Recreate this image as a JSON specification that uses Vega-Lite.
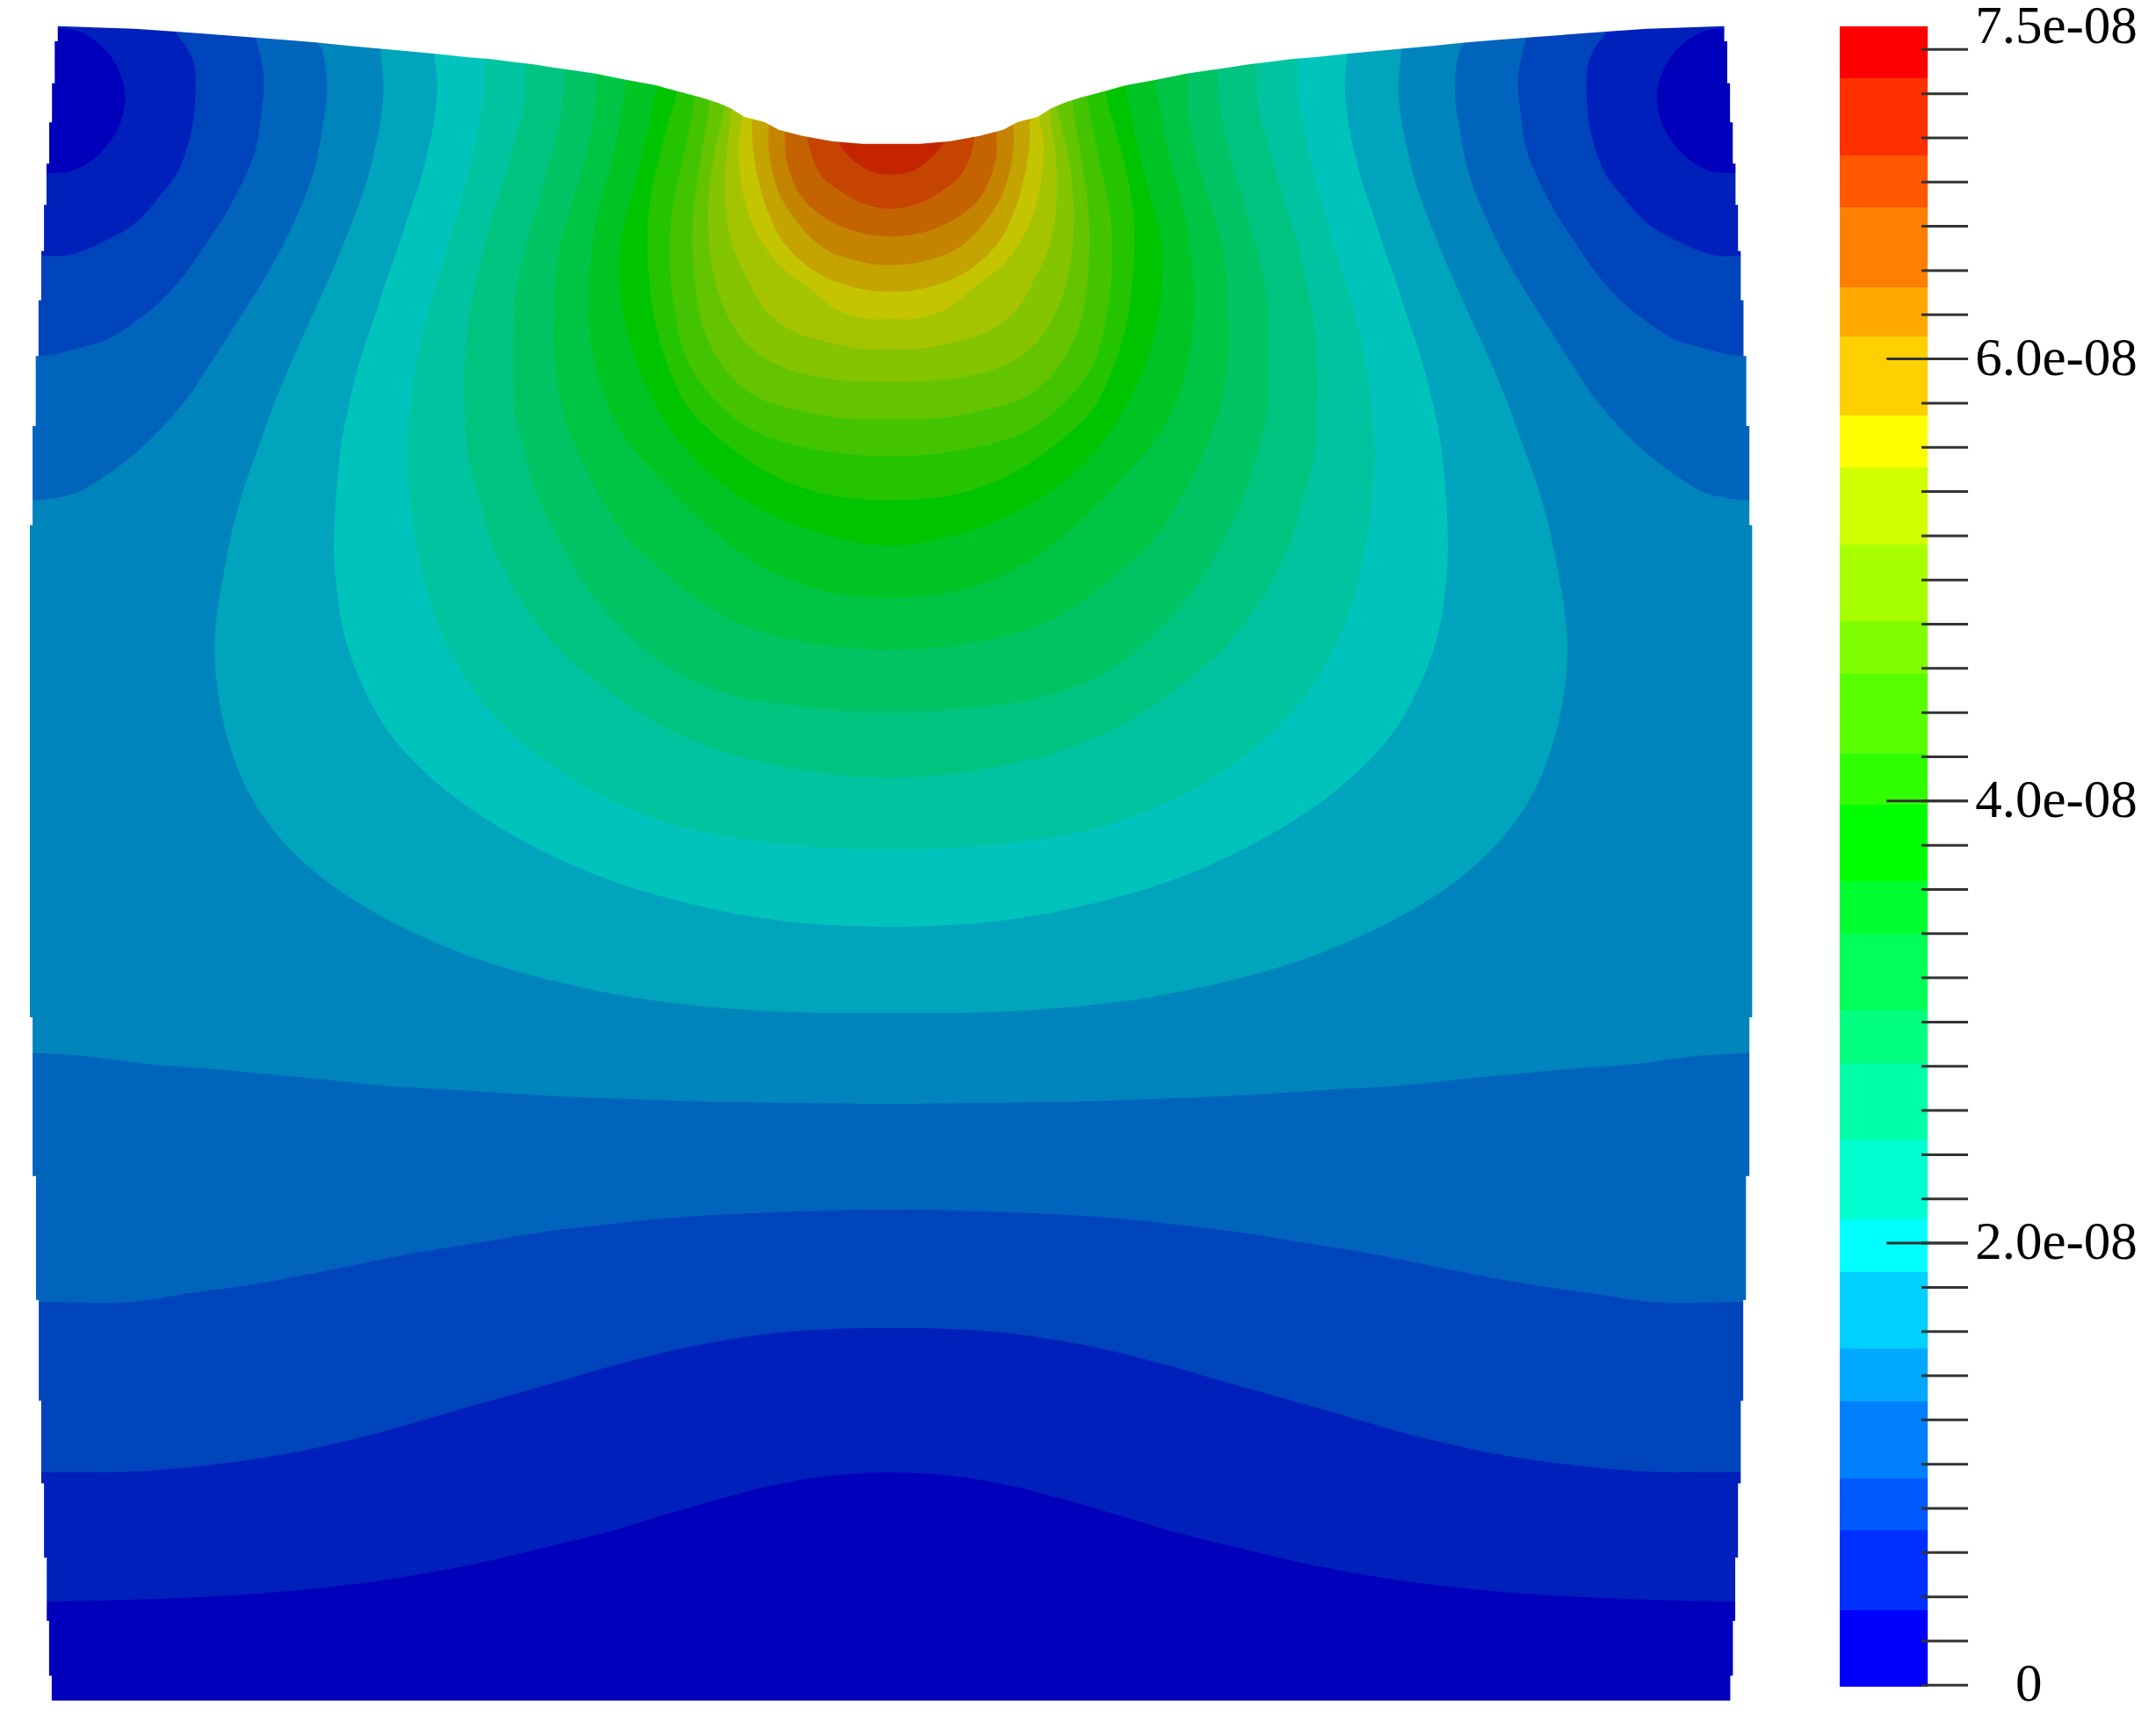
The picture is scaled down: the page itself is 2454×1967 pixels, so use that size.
{"$schema":"https://vega.github.io/schema/vega-lite/v6.json","width":2454,"height":1967,"padding":0,"autosize":{"type":"fit","contains":"padding"},"background":"white","config":{"view":{"stroke":null}},"resolve":{"scale":{"y":"independent"}},"layer":[
{"layer":[
{"data":{"values":[{"x":0,"y":0},{"x":1296,"y":0},{"x":1296,"y":1257},{"x":0,"y":1257}]},"transform":[{"window":[{"op":"row_number","as":"i"}]}],"mark":{"type":"line","fill":"#0000bc","stroke":null},"encoding":{"x":{"field":"x","type":"quantitative","scale":{"domain":[0,1568],"nice":false,"zero":false},"axis":null},"y":{"field":"y","type":"quantitative","scale":{"domain":[1257,0],"nice":false,"zero":false},"axis":null},"order":{"field":"i"}}},
{"data":{"values":[
{"band":1,"x":0,"y":1165},{"band":1,"x":34,"y":1165},{"band":1,"x":114,"y":1163},{"band":1,"x":190,"y":1159},{"band":1,"x":268,"y":1151},{"band":1,"x":339,"y":1139},{"band":1,"x":399,"y":1125},{"band":1,"x":447,"y":1113},{"band":1,"x":500,"y":1097},{"band":1,"x":560,"y":1081},{"band":1,"x":600,"y":1074},{"band":1,"x":648,"y":1071},{"band":1,"x":696,"y":1074},{"band":1,"x":736,"y":1081},{"band":1,"x":796,"y":1097},{"band":1,"x":849,"y":1113},{"band":1,"x":897,"y":1125},{"band":1,"x":957,"y":1139},{"band":1,"x":1028,"y":1151},{"band":1,"x":1106,"y":1159},{"band":1,"x":1182,"y":1163},{"band":1,"x":1262,"y":1165},{"band":1,"x":1296,"y":1165},{"band":1,"x":1296,"y":1155},{"band":1,"x":1296,"y":136},{"band":1,"x":1296,"y":126},{"band":1,"x":1262,"y":126},{"band":1,"x":1246,"y":125},{"band":1,"x":1236,"y":121},{"band":1,"x":1226,"y":114},{"band":1,"x":1216,"y":103},{"band":1,"x":1208,"y":88},{"band":1,"x":1205,"y":73},{"band":1,"x":1207,"y":58},{"band":1,"x":1214,"y":43},{"band":1,"x":1224,"y":32},{"band":1,"x":1236,"y":24},{"band":1,"x":1247,"y":21},{"band":1,"x":1254,"y":20},{"band":1,"x":1254,"y":0},{"band":1,"x":42,"y":0},{"band":1,"x":42,"y":20},{"band":1,"x":49,"y":21},{"band":1,"x":60,"y":24},{"band":1,"x":72,"y":32},{"band":1,"x":82,"y":43},{"band":1,"x":89,"y":58},{"band":1,"x":91,"y":73},{"band":1,"x":88,"y":88},{"band":1,"x":80,"y":103},{"band":1,"x":70,"y":114},{"band":1,"x":60,"y":121},{"band":1,"x":50,"y":125},{"band":1,"x":34,"y":126},{"band":1,"x":0,"y":126},
{"band":2,"x":0,"y":1071},{"band":2,"x":30,"y":1071},{"band":2,"x":105,"y":1070},{"band":2,"x":194,"y":1060},{"band":2,"x":261,"y":1046},{"band":2,"x":335,"y":1025},{"band":2,"x":399,"y":1007},{"band":2,"x":447,"y":993},{"band":2,"x":500,"y":980},{"band":2,"x":560,"y":970},{"band":2,"x":600,"y":967},{"band":2,"x":648,"y":966},{"band":2,"x":696,"y":967},{"band":2,"x":736,"y":970},{"band":2,"x":796,"y":980},{"band":2,"x":849,"y":993},{"band":2,"x":897,"y":1007},{"band":2,"x":961,"y":1025},{"band":2,"x":1035,"y":1046},{"band":2,"x":1102,"y":1060},{"band":2,"x":1191,"y":1070},{"band":2,"x":1266,"y":1071},{"band":2,"x":1296,"y":1071},{"band":2,"x":1296,"y":1061},{"band":2,"x":1296,"y":196},{"band":2,"x":1296,"y":186},{"band":2,"x":1266,"y":186},{"band":2,"x":1248,"y":186},{"band":2,"x":1232,"y":181},{"band":2,"x":1217,"y":174},{"band":2,"x":1204,"y":167},{"band":2,"x":1192,"y":157},{"band":2,"x":1181,"y":144},{"band":2,"x":1169,"y":129},{"band":2,"x":1161,"y":111},{"band":2,"x":1156,"y":91},{"band":2,"x":1154,"y":73},{"band":2,"x":1154,"y":53},{"band":2,"x":1156,"y":43},{"band":2,"x":1161,"y":33},{"band":2,"x":1168,"y":23},{"band":2,"x":1168,"y":0},{"band":2,"x":128,"y":0},{"band":2,"x":128,"y":23},{"band":2,"x":135,"y":33},{"band":2,"x":140,"y":43},{"band":2,"x":142,"y":53},{"band":2,"x":142,"y":73},{"band":2,"x":140,"y":91},{"band":2,"x":135,"y":111},{"band":2,"x":127,"y":129},{"band":2,"x":115,"y":144},{"band":2,"x":104,"y":157},{"band":2,"x":92,"y":167},{"band":2,"x":79,"y":174},{"band":2,"x":64,"y":181},{"band":2,"x":48,"y":186},{"band":2,"x":30,"y":186},{"band":2,"x":0,"y":186},
{"band":3,"x":0,"y":947},{"band":3,"x":28,"y":947},{"band":3,"x":96,"y":947},{"band":3,"x":136,"y":941},{"band":3,"x":180,"y":935},{"band":3,"x":224,"y":927},{"band":3,"x":264,"y":919},{"band":3,"x":304,"y":911},{"band":3,"x":348,"y":904},{"band":3,"x":397,"y":896},{"band":3,"x":447,"y":890},{"band":3,"x":500,"y":885},{"band":3,"x":560,"y":882},{"band":3,"x":648,"y":880},{"band":3,"x":736,"y":882},{"band":3,"x":796,"y":885},{"band":3,"x":849,"y":890},{"band":3,"x":899,"y":896},{"band":3,"x":948,"y":904},{"band":3,"x":992,"y":911},{"band":3,"x":1032,"y":919},{"band":3,"x":1072,"y":927},{"band":3,"x":1116,"y":935},{"band":3,"x":1160,"y":941},{"band":3,"x":1200,"y":947},{"band":3,"x":1268,"y":947},{"band":3,"x":1296,"y":947},{"band":3,"x":1296,"y":937},{"band":3,"x":1296,"y":269},{"band":3,"x":1296,"y":259},{"band":3,"x":1268,"y":259},{"band":3,"x":1253,"y":257},{"band":3,"x":1234,"y":252},{"band":3,"x":1216,"y":246},{"band":3,"x":1199,"y":235},{"band":3,"x":1181,"y":221},{"band":3,"x":1162,"y":200},{"band":3,"x":1146,"y":177},{"band":3,"x":1131,"y":154},{"band":3,"x":1119,"y":131},{"band":3,"x":1110,"y":109},{"band":3,"x":1106,"y":83},{"band":3,"x":1104,"y":58},{"band":3,"x":1108,"y":35},{"band":3,"x":1110,"y":28},{"band":3,"x":1110,"y":0},{"band":3,"x":186,"y":0},{"band":3,"x":186,"y":28},{"band":3,"x":188,"y":35},{"band":3,"x":192,"y":58},{"band":3,"x":190,"y":83},{"band":3,"x":186,"y":109},{"band":3,"x":177,"y":131},{"band":3,"x":165,"y":154},{"band":3,"x":150,"y":177},{"band":3,"x":134,"y":200},{"band":3,"x":115,"y":221},{"band":3,"x":97,"y":235},{"band":3,"x":80,"y":246},{"band":3,"x":62,"y":252},{"band":3,"x":43,"y":257},{"band":3,"x":28,"y":259},{"band":3,"x":0,"y":259},
{"band":4,"x":0,"y":766},{"band":4,"x":24,"y":766},{"band":4,"x":60,"y":768},{"band":4,"x":108,"y":774},{"band":4,"x":148,"y":777},{"band":4,"x":191,"y":781},{"band":4,"x":234,"y":785},{"band":4,"x":282,"y":790},{"band":4,"x":334,"y":793},{"band":4,"x":397,"y":797},{"band":4,"x":447,"y":799},{"band":4,"x":500,"y":801},{"band":4,"x":560,"y":802},{"band":4,"x":648,"y":803},{"band":4,"x":736,"y":802},{"band":4,"x":796,"y":801},{"band":4,"x":849,"y":799},{"band":4,"x":899,"y":797},{"band":4,"x":962,"y":793},{"band":4,"x":1014,"y":790},{"band":4,"x":1062,"y":785},{"band":4,"x":1105,"y":781},{"band":4,"x":1148,"y":777},{"band":4,"x":1188,"y":774},{"band":4,"x":1236,"y":768},{"band":4,"x":1272,"y":766},{"band":4,"x":1296,"y":766},{"band":4,"x":1296,"y":756},{"band":4,"x":1296,"y":374},{"band":4,"x":1296,"y":364},{"band":4,"x":1272,"y":364},{"band":4,"x":1254,"y":362},{"band":4,"x":1239,"y":358},{"band":4,"x":1219,"y":346},{"band":4,"x":1199,"y":331},{"band":4,"x":1179,"y":312},{"band":4,"x":1160,"y":290},{"band":4,"x":1142,"y":263},{"band":4,"x":1124,"y":235},{"band":4,"x":1105,"y":205},{"band":4,"x":1087,"y":172},{"band":4,"x":1069,"y":129},{"band":4,"x":1062,"y":96},{"band":4,"x":1058,"y":63},{"band":4,"x":1062,"y":35},{"band":4,"x":1065,"y":31},{"band":4,"x":1065,"y":0},{"band":4,"x":231,"y":0},{"band":4,"x":231,"y":31},{"band":4,"x":234,"y":35},{"band":4,"x":238,"y":63},{"band":4,"x":234,"y":96},{"band":4,"x":227,"y":129},{"band":4,"x":209,"y":172},{"band":4,"x":191,"y":205},{"band":4,"x":172,"y":235},{"band":4,"x":154,"y":263},{"band":4,"x":136,"y":290},{"band":4,"x":117,"y":312},{"band":4,"x":97,"y":331},{"band":4,"x":77,"y":346},{"band":4,"x":57,"y":358},{"band":4,"x":42,"y":362},{"band":4,"x":24,"y":364},{"band":4,"x":0,"y":364},
{"band":5,"x":277,"y":0},{"band":5,"x":277,"y":37},{"band":5,"x":279,"y":63},{"band":5,"x":277,"y":86},{"band":5,"x":272,"y":111},{"band":5,"x":267,"y":131},{"band":5,"x":261,"y":149},{"band":5,"x":254,"y":167},{"band":5,"x":246,"y":187},{"band":5,"x":236,"y":210},{"band":5,"x":227,"y":230},{"band":5,"x":217,"y":252},{"band":5,"x":207,"y":275},{"band":5,"x":197,"y":300},{"band":5,"x":187,"y":328},{"band":5,"x":178,"y":353},{"band":5,"x":170,"y":381},{"band":5,"x":163,"y":415},{"band":5,"x":158,"y":445},{"band":5,"x":156,"y":470},{"band":5,"x":158,"y":500},{"band":5,"x":165,"y":535},{"band":5,"x":180,"y":575},{"band":5,"x":204,"y":610},{"band":5,"x":236,"y":640},{"band":5,"x":280,"y":668},{"band":5,"x":340,"y":695},{"band":5,"x":400,"y":713},{"band":5,"x":470,"y":727},{"band":5,"x":550,"y":735},{"band":5,"x":648,"y":737},{"band":5,"x":746,"y":735},{"band":5,"x":826,"y":727},{"band":5,"x":896,"y":713},{"band":5,"x":956,"y":695},{"band":5,"x":1016,"y":668},{"band":5,"x":1060,"y":640},{"band":5,"x":1092,"y":610},{"band":5,"x":1116,"y":575},{"band":5,"x":1131,"y":535},{"band":5,"x":1138,"y":500},{"band":5,"x":1140,"y":470},{"band":5,"x":1138,"y":445},{"band":5,"x":1133,"y":415},{"band":5,"x":1126,"y":381},{"band":5,"x":1118,"y":353},{"band":5,"x":1109,"y":328},{"band":5,"x":1099,"y":300},{"band":5,"x":1089,"y":275},{"band":5,"x":1079,"y":252},{"band":5,"x":1069,"y":230},{"band":5,"x":1060,"y":210},{"band":5,"x":1050,"y":187},{"band":5,"x":1042,"y":167},{"band":5,"x":1035,"y":149},{"band":5,"x":1029,"y":131},{"band":5,"x":1024,"y":111},{"band":5,"x":1019,"y":86},{"band":5,"x":1017,"y":63},{"band":5,"x":1019,"y":37},{"band":5,"x":1019,"y":0},
{"band":6,"x":316,"y":0},{"band":6,"x":316,"y":39},{"band":6,"x":318,"y":58},{"band":6,"x":316,"y":86},{"band":6,"x":311,"y":111},{"band":6,"x":305,"y":134},{"band":6,"x":298,"y":154},{"band":6,"x":290,"y":179},{"band":6,"x":281,"y":204},{"band":6,"x":272,"y":232},{"band":6,"x":265,"y":252},{"band":6,"x":256,"y":285},{"band":6,"x":249,"y":318},{"band":6,"x":245,"y":353},{"band":6,"x":243,"y":396},{"band":6,"x":244,"y":420},{"band":6,"x":250,"y":460},{"band":6,"x":262,"y":495},{"band":6,"x":283,"y":533},{"band":6,"x":316,"y":568},{"band":6,"x":365,"y":603},{"band":6,"x":430,"y":635},{"band":6,"x":500,"y":657},{"band":6,"x":570,"y":670},{"band":6,"x":648,"y":674},{"band":6,"x":726,"y":670},{"band":6,"x":796,"y":657},{"band":6,"x":866,"y":635},{"band":6,"x":931,"y":603},{"band":6,"x":980,"y":568},{"band":6,"x":1013,"y":533},{"band":6,"x":1034,"y":495},{"band":6,"x":1046,"y":460},{"band":6,"x":1052,"y":420},{"band":6,"x":1053,"y":396},{"band":6,"x":1051,"y":353},{"band":6,"x":1047,"y":318},{"band":6,"x":1040,"y":285},{"band":6,"x":1031,"y":252},{"band":6,"x":1024,"y":232},{"band":6,"x":1015,"y":204},{"band":6,"x":1006,"y":179},{"band":6,"x":998,"y":154},{"band":6,"x":991,"y":134},{"band":6,"x":985,"y":111},{"band":6,"x":980,"y":86},{"band":6,"x":978,"y":58},{"band":6,"x":980,"y":39},{"band":6,"x":980,"y":0},
{"band":7,"x":352,"y":0},{"band":7,"x":352,"y":43},{"band":7,"x":352,"y":66},{"band":7,"x":347,"y":96},{"band":7,"x":342,"y":119},{"band":7,"x":335,"y":146},{"band":7,"x":324,"y":184},{"band":7,"x":314,"y":217},{"band":7,"x":305,"y":252},{"band":7,"x":299,"y":290},{"band":7,"x":296,"y":328},{"band":7,"x":298,"y":366},{"band":7,"x":303,"y":396},{"band":7,"x":310,"y":430},{"band":7,"x":325,"y":470},{"band":7,"x":350,"y":510},{"band":7,"x":385,"y":545},{"band":7,"x":430,"y":575},{"band":7,"x":490,"y":600},{"band":7,"x":560,"y":613},{"band":7,"x":648,"y":618},{"band":7,"x":736,"y":613},{"band":7,"x":806,"y":600},{"band":7,"x":866,"y":575},{"band":7,"x":911,"y":545},{"band":7,"x":946,"y":510},{"band":7,"x":971,"y":470},{"band":7,"x":986,"y":430},{"band":7,"x":993,"y":396},{"band":7,"x":998,"y":366},{"band":7,"x":1000,"y":328},{"band":7,"x":997,"y":290},{"band":7,"x":991,"y":252},{"band":7,"x":982,"y":217},{"band":7,"x":972,"y":184},{"band":7,"x":961,"y":146},{"band":7,"x":954,"y":119},{"band":7,"x":949,"y":96},{"band":7,"x":944,"y":66},{"band":7,"x":944,"y":43},{"band":7,"x":944,"y":0},
{"band":8,"x":382,"y":0},{"band":8,"x":382,"y":47},{"band":8,"x":381,"y":76},{"band":8,"x":374,"y":103},{"band":8,"x":364,"y":139},{"band":8,"x":354,"y":172},{"band":8,"x":348,"y":197},{"band":8,"x":341,"y":232},{"band":8,"x":338,"y":268},{"band":8,"x":338,"y":298},{"band":8,"x":341,"y":336},{"band":8,"x":348,"y":361},{"band":8,"x":358,"y":396},{"band":8,"x":375,"y":430},{"band":8,"x":400,"y":465},{"band":8,"x":435,"y":497},{"band":8,"x":480,"y":527},{"band":8,"x":530,"y":548},{"band":8,"x":590,"y":561},{"band":8,"x":648,"y":566},{"band":8,"x":706,"y":561},{"band":8,"x":766,"y":548},{"band":8,"x":816,"y":527},{"band":8,"x":861,"y":497},{"band":8,"x":896,"y":465},{"band":8,"x":921,"y":430},{"band":8,"x":938,"y":396},{"band":8,"x":948,"y":361},{"band":8,"x":955,"y":336},{"band":8,"x":958,"y":298},{"band":8,"x":958,"y":268},{"band":8,"x":955,"y":232},{"band":8,"x":948,"y":197},{"band":8,"x":942,"y":172},{"band":8,"x":932,"y":139},{"band":8,"x":922,"y":103},{"band":8,"x":915,"y":76},{"band":8,"x":914,"y":47},{"band":8,"x":914,"y":0},
{"band":9,"x":410,"y":0},{"band":9,"x":410,"y":51},{"band":9,"x":409,"y":76},{"band":9,"x":403,"y":106},{"band":9,"x":391,"y":149},{"band":9,"x":379,"y":192},{"band":9,"x":374,"y":222},{"band":9,"x":373,"y":263},{"band":9,"x":374,"y":298},{"band":9,"x":381,"y":328},{"band":9,"x":391,"y":361},{"band":9,"x":408,"y":396},{"band":9,"x":425,"y":425},{"band":9,"x":450,"y":455},{"band":9,"x":485,"y":485},{"band":9,"x":530,"y":505},{"band":9,"x":590,"y":515},{"band":9,"x":648,"y":518},{"band":9,"x":706,"y":515},{"band":9,"x":766,"y":505},{"band":9,"x":811,"y":485},{"band":9,"x":846,"y":455},{"band":9,"x":871,"y":425},{"band":9,"x":888,"y":396},{"band":9,"x":905,"y":361},{"band":9,"x":915,"y":328},{"band":9,"x":922,"y":298},{"band":9,"x":923,"y":263},{"band":9,"x":922,"y":222},{"band":9,"x":917,"y":192},{"band":9,"x":905,"y":149},{"band":9,"x":893,"y":106},{"band":9,"x":887,"y":76},{"band":9,"x":886,"y":51},{"band":9,"x":886,"y":0},
{"band":10,"x":433,"y":0},{"band":10,"x":433,"y":55},{"band":10,"x":431,"y":88},{"band":10,"x":423,"y":124},{"band":10,"x":413,"y":157},{"band":10,"x":406,"y":184},{"band":10,"x":403,"y":222},{"band":10,"x":403,"y":258},{"band":10,"x":409,"y":298},{"band":10,"x":421,"y":331},{"band":10,"x":438,"y":364},{"band":10,"x":460,"y":396},{"band":10,"x":478,"y":412},{"band":10,"x":504,"y":434},{"band":10,"x":540,"y":455},{"band":10,"x":590,"y":468},{"band":10,"x":648,"y":473},{"band":10,"x":706,"y":468},{"band":10,"x":756,"y":455},{"band":10,"x":792,"y":434},{"band":10,"x":818,"y":412},{"band":10,"x":836,"y":396},{"band":10,"x":858,"y":364},{"band":10,"x":875,"y":331},{"band":10,"x":887,"y":298},{"band":10,"x":893,"y":258},{"band":10,"x":893,"y":222},{"band":10,"x":890,"y":184},{"band":10,"x":883,"y":157},{"band":10,"x":873,"y":124},{"band":10,"x":865,"y":88},{"band":10,"x":863,"y":55},{"band":10,"x":863,"y":0},
{"band":11,"x":455,"y":0},{"band":11,"x":455,"y":59},{"band":11,"x":451,"y":88},{"band":11,"x":444,"y":121},{"band":11,"x":434,"y":157},{"band":11,"x":429,"y":197},{"band":11,"x":428,"y":217},{"band":11,"x":430,"y":252},{"band":11,"x":438,"y":285},{"band":11,"x":454,"y":318},{"band":11,"x":478,"y":346},{"band":11,"x":505,"y":374},{"band":11,"x":530,"y":396},{"band":11,"x":559,"y":415},{"band":11,"x":600,"y":430},{"band":11,"x":648,"y":435},{"band":11,"x":696,"y":430},{"band":11,"x":737,"y":415},{"band":11,"x":766,"y":396},{"band":11,"x":791,"y":374},{"band":11,"x":818,"y":346},{"band":11,"x":842,"y":318},{"band":11,"x":858,"y":285},{"band":11,"x":866,"y":252},{"band":11,"x":868,"y":217},{"band":11,"x":867,"y":197},{"band":11,"x":862,"y":157},{"band":11,"x":852,"y":121},{"band":11,"x":845,"y":88},{"band":11,"x":841,"y":59},{"band":11,"x":841,"y":0},
{"band":12,"x":477,"y":0},{"band":12,"x":477,"y":63},{"band":12,"x":468,"y":109},{"band":12,"x":460,"y":141},{"band":12,"x":452,"y":172},{"band":12,"x":451,"y":207},{"band":12,"x":456,"y":242},{"band":12,"x":466,"y":272},{"band":12,"x":478,"y":297},{"band":12,"x":494,"y":321},{"band":12,"x":515,"y":344},{"band":12,"x":547,"y":367},{"band":12,"x":590,"y":386},{"band":12,"x":648,"y":397},{"band":12,"x":706,"y":386},{"band":12,"x":749,"y":367},{"band":12,"x":781,"y":344},{"band":12,"x":802,"y":321},{"band":12,"x":818,"y":297},{"band":12,"x":830,"y":272},{"band":12,"x":840,"y":242},{"band":12,"x":845,"y":207},{"band":12,"x":844,"y":172},{"band":12,"x":836,"y":141},{"band":12,"x":828,"y":109},{"band":12,"x":819,"y":63},{"band":12,"x":819,"y":0},
{"band":13,"x":492,"y":0},{"band":13,"x":492,"y":66},{"band":13,"x":484,"y":96},{"band":13,"x":474,"y":139},{"band":13,"x":471,"y":165},{"band":13,"x":474,"y":220},{"band":13,"x":483,"y":258},{"band":13,"x":500,"y":296},{"band":13,"x":523,"y":319},{"band":13,"x":559,"y":344},{"band":13,"x":598,"y":359},{"band":13,"x":648,"y":364},{"band":13,"x":698,"y":359},{"band":13,"x":737,"y":344},{"band":13,"x":773,"y":319},{"band":13,"x":796,"y":296},{"band":13,"x":813,"y":258},{"band":13,"x":822,"y":220},{"band":13,"x":825,"y":165},{"band":13,"x":822,"y":139},{"band":13,"x":812,"y":96},{"band":13,"x":804,"y":66},{"band":13,"x":804,"y":0},
{"band":14,"x":505,"y":0},{"band":14,"x":505,"y":70},{"band":14,"x":497,"y":114},{"band":14,"x":489,"y":152},{"band":14,"x":487,"y":190},{"band":14,"x":491,"y":228},{"band":14,"x":500,"y":263},{"band":14,"x":520,"y":291},{"band":14,"x":546,"y":312},{"band":14,"x":579,"y":324},{"band":14,"x":623,"y":331},{"band":14,"x":648,"y":332},{"band":14,"x":673,"y":331},{"band":14,"x":717,"y":324},{"band":14,"x":750,"y":312},{"band":14,"x":776,"y":291},{"band":14,"x":796,"y":263},{"band":14,"x":805,"y":228},{"band":14,"x":809,"y":190},{"band":14,"x":807,"y":152},{"band":14,"x":799,"y":114},{"band":14,"x":791,"y":70},{"band":14,"x":791,"y":0},
{"band":15,"x":516,"y":0},{"band":15,"x":516,"y":73},{"band":15,"x":509,"y":119},{"band":15,"x":504,"y":160},{"band":15,"x":505,"y":202},{"band":15,"x":512,"y":240},{"band":15,"x":527,"y":268},{"band":15,"x":549,"y":288},{"band":15,"x":579,"y":298},{"band":15,"x":611,"y":304},{"band":15,"x":648,"y":305},{"band":15,"x":685,"y":304},{"band":15,"x":717,"y":298},{"band":15,"x":747,"y":288},{"band":15,"x":769,"y":268},{"band":15,"x":784,"y":240},{"band":15,"x":791,"y":202},{"band":15,"x":792,"y":160},{"band":15,"x":787,"y":119},{"band":15,"x":780,"y":73},{"band":15,"x":780,"y":0},
{"band":16,"x":527,"y":0},{"band":16,"x":527,"y":77},{"band":16,"x":519,"y":114},{"band":16,"x":515,"y":152},{"band":16,"x":518,"y":195},{"band":16,"x":527,"y":225},{"band":16,"x":541,"y":248},{"band":16,"x":562,"y":264},{"band":16,"x":589,"y":273},{"band":16,"x":618,"y":277},{"band":16,"x":648,"y":278},{"band":16,"x":678,"y":277},{"band":16,"x":707,"y":273},{"band":16,"x":734,"y":264},{"band":16,"x":755,"y":248},{"band":16,"x":769,"y":225},{"band":16,"x":778,"y":195},{"band":16,"x":781,"y":152},{"band":16,"x":777,"y":114},{"band":16,"x":769,"y":77},{"band":16,"x":769,"y":0},
{"band":17,"x":532,"y":0},{"band":17,"x":532,"y":80},{"band":17,"x":528,"y":117},{"band":17,"x":528,"y":152},{"band":17,"x":533,"y":180},{"band":17,"x":543,"y":202},{"band":17,"x":556,"y":225},{"band":17,"x":575,"y":240},{"band":17,"x":598,"y":248},{"band":17,"x":628,"y":254},{"band":17,"x":648,"y":254},{"band":17,"x":668,"y":254},{"band":17,"x":698,"y":248},{"band":17,"x":721,"y":240},{"band":17,"x":740,"y":225},{"band":17,"x":753,"y":202},{"band":17,"x":763,"y":180},{"band":17,"x":768,"y":152},{"band":17,"x":768,"y":117},{"band":17,"x":764,"y":80},{"band":17,"x":764,"y":0},
{"band":18,"x":540,"y":0},{"band":18,"x":540,"y":85},{"band":18,"x":537,"y":106},{"band":18,"x":540,"y":139},{"band":18,"x":549,"y":167},{"band":18,"x":566,"y":192},{"band":18,"x":589,"y":210},{"band":18,"x":608,"y":225},{"band":18,"x":631,"y":232},{"band":18,"x":648,"y":232},{"band":18,"x":665,"y":232},{"band":18,"x":688,"y":225},{"band":18,"x":707,"y":210},{"band":18,"x":730,"y":192},{"band":18,"x":747,"y":167},{"band":18,"x":756,"y":139},{"band":18,"x":759,"y":106},{"band":18,"x":756,"y":85},{"band":18,"x":756,"y":0},
{"band":19,"x":547,"y":0},{"band":19,"x":547,"y":87},{"band":19,"x":548,"y":111},{"band":19,"x":556,"y":147},{"band":19,"x":569,"y":175},{"band":19,"x":589,"y":195},{"band":19,"x":611,"y":206},{"band":19,"x":637,"y":212},{"band":19,"x":648,"y":212},{"band":19,"x":659,"y":212},{"band":19,"x":685,"y":206},{"band":19,"x":707,"y":195},{"band":19,"x":727,"y":175},{"band":19,"x":740,"y":147},{"band":19,"x":748,"y":111},{"band":19,"x":749,"y":87},{"band":19,"x":749,"y":0},
{"band":20,"x":559,"y":0},{"band":20,"x":559,"y":93},{"band":20,"x":559,"y":109},{"band":20,"x":566,"y":139},{"band":20,"x":580,"y":162},{"band":20,"x":600,"y":181},{"band":20,"x":624,"y":190},{"band":20,"x":648,"y":193},{"band":20,"x":672,"y":190},{"band":20,"x":696,"y":181},{"band":20,"x":716,"y":162},{"band":20,"x":730,"y":139},{"band":20,"x":737,"y":109},{"band":20,"x":737,"y":93},{"band":20,"x":737,"y":0},
{"band":21,"x":571,"y":0},{"band":21,"x":571,"y":95},{"band":21,"x":572,"y":117},{"band":21,"x":582,"y":142},{"band":21,"x":598,"y":157},{"band":21,"x":621,"y":168},{"band":21,"x":648,"y":172},{"band":21,"x":675,"y":168},{"band":21,"x":698,"y":157},{"band":21,"x":714,"y":142},{"band":21,"x":724,"y":117},{"band":21,"x":725,"y":95},{"band":21,"x":725,"y":0},
{"band":22,"x":587,"y":0},{"band":22,"x":587,"y":100},{"band":22,"x":597,"y":127},{"band":22,"x":611,"y":139},{"band":22,"x":628,"y":148},{"band":22,"x":648,"y":152},{"band":22,"x":668,"y":148},{"band":22,"x":685,"y":139},{"band":22,"x":699,"y":127},{"band":22,"x":709,"y":100},{"band":22,"x":709,"y":0},
{"band":23,"x":610,"y":0},{"band":23,"x":610,"y":103},{"band":23,"x":618,"y":114},{"band":23,"x":634,"y":125},{"band":23,"x":648,"y":127},{"band":23,"x":662,"y":125},{"band":23,"x":678,"y":114},{"band":23,"x":686,"y":103},{"band":23,"x":686,"y":0}
]},"transform":[{"window":[{"op":"row_number","as":"i"}]}],"mark":{"type":"line","interpolate":"catmull-rom","stroke":null,"clip":true},"encoding":{"x":{"field":"x","type":"quantitative","scale":{"domain":[0,1568],"nice":false,"zero":false},"axis":null},"y":{"field":"y","type":"quantitative","scale":{"domain":[1257,0],"nice":false,"zero":false},"axis":null},"order":{"field":"i"},"detail":{"field":"band"},"fill":{"field":"band","type":"ordinal","legend":null,"scale":{"domain":[1,2,3,4,5,6,7,8,9,10,11,12,13,14,15,16,17,18,19,20,21,22,23],"range":["#0020bc","#0044bc","#0064bc","#0084bc","#00a4bc","#00c4bc","#00c4a0","#00c480","#00c464","#00c444","#00c424","#00c400","#24c400","#44c400","#64c400","#84c400","#a4c400","#c4c400","#c4a400","#c48400","#c46400","#c44400","#c42400"]}}}},
{"data":{"values":[{"x":0,"y":0},{"x":1330,"y":0},{"x":1330,"y":1257},{"x":0,"y":1257},{"x":0,"y":0},{"x":42,"y":19},{"x":42,"y":30},{"x":39.8,"y":30},{"x":39.8,"y":60.6},{"x":37.8,"y":60.6},{"x":37.8,"y":89},{"x":35.8,"y":89},{"x":35.8,"y":119},{"x":33.8,"y":119},{"x":33.8,"y":149},{"x":32,"y":149},{"x":32,"y":182.6},{"x":30,"y":182.6},{"x":30,"y":218.4},{"x":28,"y":218.4},{"x":28,"y":259},{"x":26,"y":259},{"x":26,"y":310},{"x":23.7,"y":310},{"x":23.7,"y":382},{"x":21.7,"y":382},{"x":21.7,"y":740},{"x":23.7,"y":740},{"x":23.7,"y":855.5},{"x":26.2,"y":855.5},{"x":26.2,"y":945.6},{"x":28.2,"y":945.6},{"x":28.2,"y":1019},{"x":30,"y":1019},{"x":30,"y":1079},{"x":32,"y":1079},{"x":32,"y":1133},{"x":34,"y":1133},{"x":34,"y":1179},{"x":35.7,"y":1179},{"x":35.7,"y":1219},{"x":37.6,"y":1219},{"x":37.6,"y":1237},{"x":1258.4,"y":1237},{"x":1258.4,"y":1219},{"x":1260.3,"y":1219},{"x":1260.3,"y":1179},{"x":1262,"y":1179},{"x":1262,"y":1133},{"x":1264,"y":1133},{"x":1264,"y":1079},{"x":1266,"y":1079},{"x":1266,"y":1019},{"x":1267.8,"y":1019},{"x":1267.8,"y":945.6},{"x":1269.8,"y":945.6},{"x":1269.8,"y":855.5},{"x":1272.3,"y":855.5},{"x":1272.3,"y":740},{"x":1274.3,"y":740},{"x":1274.3,"y":382},{"x":1272.3,"y":382},{"x":1272.3,"y":310},{"x":1270,"y":310},{"x":1270,"y":259},{"x":1268,"y":259},{"x":1268,"y":218.4},{"x":1266,"y":218.4},{"x":1266,"y":182.6},{"x":1264,"y":182.6},{"x":1264,"y":149},{"x":1262.2,"y":149},{"x":1262.2,"y":119},{"x":1260.2,"y":119},{"x":1260.2,"y":89},{"x":1258.2,"y":89},{"x":1258.2,"y":60.6},{"x":1256.2,"y":60.6},{"x":1256.2,"y":30},{"x":1254,"y":30},{"x":1254,"y":19},{"x":1227,"y":20},{"x":1198,"y":21},{"x":1168,"y":23},{"x":1142,"y":25},{"x":1115,"y":27},{"x":1088,"y":29},{"x":1065,"y":31},{"x":1040,"y":33.5},{"x":1019,"y":35.5},{"x":996,"y":37.5},{"x":976,"y":39.5},{"x":957,"y":41.5},{"x":939,"y":43},{"x":923,"y":45},{"x":907,"y":47},{"x":891,"y":49.5},{"x":877,"y":51.5},{"x":863,"y":53.5},{"x":841,"y":58},{"x":819,"y":62},{"x":803,"y":66.5},{"x":786,"y":71},{"x":774,"y":74.7},{"x":764.5,"y":78.7},{"x":754.7,"y":85},{"x":740,"y":88.8},{"x":729.6,"y":94.4},{"x":712.3,"y":98.9},{"x":691.1,"y":102.7},{"x":669,"y":104.7},{"x":627,"y":104.7},{"x":604.9,"y":102.7},{"x":583.7,"y":98.9},{"x":566.4,"y":94.4},{"x":556,"y":88.8},{"x":541.3,"y":85},{"x":531.5,"y":78.7},{"x":522,"y":74.7},{"x":510,"y":71},{"x":493,"y":66.5},{"x":477,"y":62},{"x":455,"y":58},{"x":433,"y":53.5},{"x":419,"y":51.5},{"x":405,"y":49.5},{"x":389,"y":47},{"x":373,"y":45},{"x":357,"y":43},{"x":339,"y":41.5},{"x":320,"y":39.5},{"x":300,"y":37.5},{"x":277,"y":35.5},{"x":256,"y":33.5},{"x":231,"y":31},{"x":208,"y":29},{"x":181,"y":27},{"x":154,"y":25},{"x":128,"y":23},{"x":98,"y":21},{"x":69,"y":20},{"x":42,"y":19},{"x":0,"y":0}]},"transform":[{"window":[{"op":"row_number","as":"i"}]}],"mark":{"type":"line","fill":"white","stroke":null},"encoding":{"x":{"field":"x","type":"quantitative","scale":{"domain":[0,1568],"nice":false,"zero":false},"axis":null},"y":{"field":"y","type":"quantitative","scale":{"domain":[1257,0],"nice":false,"zero":false},"axis":null},"order":{"field":"i"}}}
]},
{"layer":[
{"data":{"values":[{"band":0,"lo":-0.00676e-8,"hi":0.339e-8},{"band":1,"lo":0.339e-8,"hi":0.7007e-8},{"band":2,"lo":0.7007e-8,"hi":0.9351e-8},{"band":3,"lo":0.9351e-8,"hi":1.2849e-8},{"band":4,"lo":1.2849e-8,"hi":1.5233e-8},{"band":5,"lo":1.5233e-8,"hi":1.8691e-8},{"band":6,"lo":1.8691e-8,"hi":2.1075e-8},{"band":7,"lo":2.1075e-8,"hi":2.469e-8},{"band":8,"lo":2.469e-8,"hi":2.8149e-8},{"band":9,"lo":2.8149e-8,"hi":3.0533e-8},{"band":10,"lo":3.0533e-8,"hi":3.399e-8},{"band":11,"lo":3.399e-8,"hi":3.6374e-8},{"band":12,"lo":3.6374e-8,"hi":3.9832e-8},{"band":13,"lo":3.9832e-8,"hi":4.2137e-8},{"band":14,"lo":4.2137e-8,"hi":4.5754e-8},{"band":15,"lo":4.5754e-8,"hi":4.8138e-8},{"band":16,"lo":4.8138e-8,"hi":5.1596e-8},{"band":17,"lo":5.1596e-8,"hi":5.5093e-8},{"band":18,"lo":5.5093e-8,"hi":5.7438e-8},{"band":19,"lo":5.7438e-8,"hi":6.1015e-8},{"band":20,"lo":6.1015e-8,"hi":6.324e-8},{"band":21,"lo":6.324e-8,"hi":6.6857e-8},{"band":22,"lo":6.6857e-8,"hi":6.9202e-8},{"band":23,"lo":6.9202e-8,"hi":7.2699e-8},{"band":24,"lo":7.2699e-8,"hi":7.5044e-8}]},"mark":{"type":"rect"},"encoding":{"x":{"datum":1338,"type":"quantitative","scale":{"domain":[0,1568],"nice":false,"zero":false},"axis":null},"x2":{"datum":1402},"y":{"field":"lo","type":"quantitative","scale":{"domain":[-0.1935e-8,7.6238e-8],"nice":false,"zero":false},"axis":null},"y2":{"field":"hi"},"color":{"field":"band","type":"ordinal","legend":null,"scale":{"domain":[0,1,2,3,4,5,6,7,8,9,10,11,12,13,14,15,16,17,18,19,20,21,22,23,24],"range":["#0000ff","#0030ff","#0058ff","#0080ff","#00a8ff","#00d0ff","#00ffff","#00ffd0","#00ffa8","#00ff80","#00ff58","#00ff30","#00ff00","#30ff00","#58ff00","#80ff00","#a8ff00","#d0ff00","#ffff00","#ffd000","#ffa800","#ff8000","#ff5800","#ff3000","#ff0000"]}}}},
{"data":{"values":[{"value":0},{"value":2e-9},{"value":4e-9},{"value":6e-9},{"value":8e-9},{"value":1e-8},{"value":1.2e-8},{"value":1.4e-8},{"value":1.6e-8},{"value":1.8e-8},{"value":2e-8},{"value":2.2e-8},{"value":2.4e-8},{"value":2.6e-8},{"value":2.8e-8},{"value":3e-8},{"value":3.2e-8},{"value":3.4e-8},{"value":3.6e-8},{"value":3.8e-8},{"value":4e-8},{"value":4.2e-8},{"value":4.4e-8},{"value":4.6e-8},{"value":4.8e-8},{"value":5e-8},{"value":5.2e-8},{"value":5.4e-8},{"value":5.6e-8},{"value":5.8e-8},{"value":6e-8},{"value":6.2e-8},{"value":6.4e-8},{"value":6.6e-8},{"value":6.8e-8},{"value":7e-8},{"value":7.2e-8},{"value":7.4e-8}]},"mark":{"type":"rule","color":"#333333","strokeWidth":3},"encoding":{"x":{"datum":1397.4,"type":"quantitative","scale":{"domain":[0,1568],"nice":false,"zero":false},"axis":null},"x2":{"datum":1431.3},"y":{"field":"value","type":"quantitative","scale":{"domain":[-0.1935e-8,7.6238e-8],"nice":false,"zero":false},"axis":null}}},
{"data":{"values":[{"value":2e-8},{"value":4e-8},{"value":6e-8}]},"mark":{"type":"rule","color":"#333333","strokeWidth":3},"encoding":{"x":{"datum":1372,"type":"quantitative","scale":{"domain":[0,1568],"nice":false,"zero":false},"axis":null},"x2":{"datum":1431.3},"y":{"field":"value","type":"quantitative","scale":{"domain":[-0.1935e-8,7.6238e-8],"nice":false,"zero":false},"axis":null}}},
{"data":{"values":[{"value":2e-8,"label":"2.0e-08"},{"value":4e-8,"label":"4.0e-08"},{"value":6e-8,"label":"6.0e-08"},{"value":7.5e-8,"label":"7.5e-08"}]},"mark":{"type":"text","align":"left","baseline":"middle","font":"Liberation Serif","fontSize":61,"color":"#000000"},"encoding":{"x":{"datum":1436.5,"type":"quantitative","scale":{"domain":[0,1568],"nice":false,"zero":false},"axis":null},"y":{"field":"value","type":"quantitative","scale":{"domain":[-0.1935e-8,7.6238e-8],"nice":false,"zero":false},"axis":null},"text":{"field":"label"}}},
{"data":{"values":[{"value":0,"label":"0"}]},"mark":{"type":"text","align":"center","baseline":"middle","font":"Liberation Serif","fontSize":61,"color":"#000000"},"encoding":{"x":{"datum":1475.5,"type":"quantitative","scale":{"domain":[0,1568],"nice":false,"zero":false},"axis":null},"y":{"field":"value","type":"quantitative","scale":{"domain":[-0.1935e-8,7.6238e-8],"nice":false,"zero":false},"axis":null},"text":{"field":"label"}}}
]}
]}
